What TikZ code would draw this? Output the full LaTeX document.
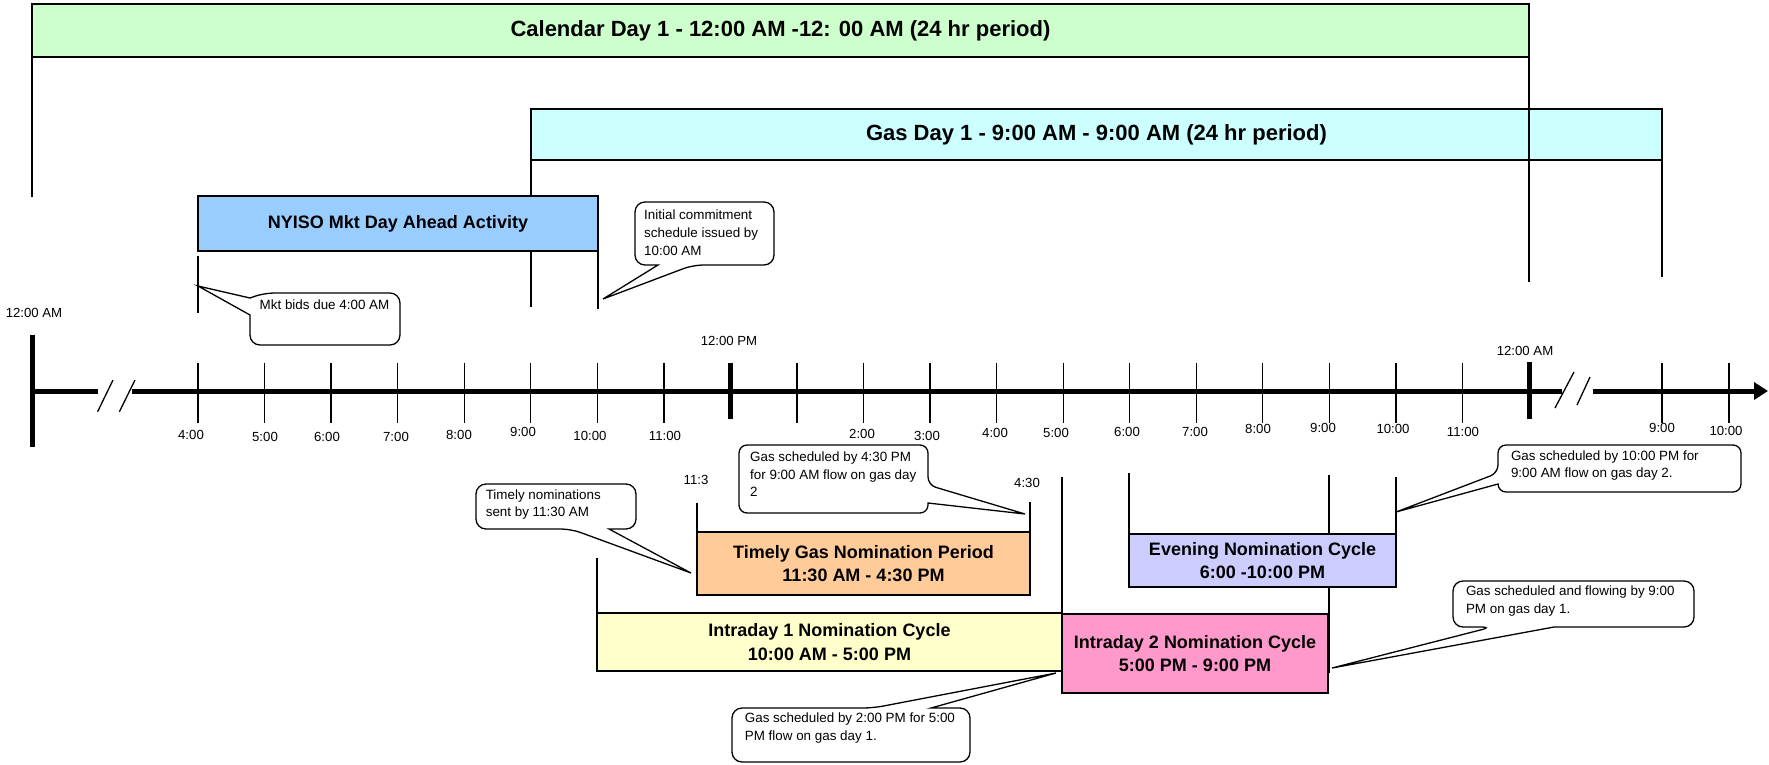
\documentclass[tikz,border=0pt]{standalone}
\usepackage{fontspec}
\setmainfont{Liberation Sans}
\usetikzlibrary{arrows.meta}
\definecolor{calg}{HTML}{CCFFCC}
\definecolor{gasc}{HTML}{CCFFFF}
\definecolor{nyb}{HTML}{99CCFF}
\definecolor{timo}{HTML}{FFCC99}
\definecolor{inty}{HTML}{FFFFCC}
\definecolor{intp}{HTML}{FF99CC}
\definecolor{evep}{HTML}{CCCCFF}
\tikzset{
  box/.style={draw=black, line width=1.3pt, inner sep=0pt, outer sep=0pt, align=center,
    font=\bfseries\fontsize{18}{23.5}\selectfont},
  bigbox/.style={box, font=\bfseries\fontsize{22}{26}\selectfont},
  vline/.style={line width=1.3pt},
  axisline/.style={line width=5pt},
  bigtick/.style={line width=5pt},
  hourtick/.style={line width=1.3pt},
  slash/.style={line width=1.3pt},
  bubble/.style={draw=black, fill=white, line width=1.3pt},
  bubtext/.style={anchor=west, inner sep=0pt, align=left, font=\fontsize{13.4}{17.8}\selectfont},
  lbl/.style={inner sep=0pt, font=\fontsize{13.2}{15}\selectfont}
}
\begin{document}
\begin{tikzpicture}[x=1pt,y=-1pt]
\useasboundingbox (0,0) rectangle (1769,764);

% --- top period boxes ---
\node[bigbox, fill=calg, minimum width=1497pt, minimum height=53pt] (cal) at (780.5,30.5)
  {Calendar Day 1 - 12:00 AM -12: 00 AM (24 hr period)};
\node[bigbox, fill=gasc, minimum width=1131pt, minimum height=51pt] (gas) at (1096.5,134.5)
  {Gas Day 1 - 9:00 AM - 9:00 AM (24 hr period)};
\draw[vline] (cal.south west) -- ++(0,140);
\draw[vline] (cal.south east) -- ++(0,225);
\draw[vline] (gas.south west) -- ++(0,147);
\draw[vline] (gas.south east) -- ++(0,117);

\node[box, fill=nyb, minimum width=400pt, minimum height=55pt] (nyiso) at (398,223.5)
  {NYISO Mkt Day Ahead Activity};
\draw[vline] (nyiso.south west) ++(0,5) -- ++(0,57);
\draw[vline] (nyiso.south east) -- ++(0,58);

% --- axis ---
\coordinate (a0) at (32,391);
\coordinate (a1) at (98,391);
\coordinate (a2) at (132,391);
\coordinate (a3) at (1562,391);
\coordinate (a4) at (1593,391);
\coordinate (a5) at (1768,391);
\draw[axisline] (a0) -- (a1);
\draw[axisline] (a2) -- (a3);
\draw[axisline, -{Triangle[length=14pt,width=17pt]}] (a4) -- (a5);
\draw[slash] (97.6,411.7) -- (113,380);
\draw[slash] (119.4,411.7) -- (135,380);
\draw[slash] (1555,408) -- (1574,372);
\draw[slash] (1577,405) -- (1590,377);

\draw[bigtick] (32,335) -- (32,447);
\draw[bigtick] (730.4,363) -- (730.4,419);
\draw[bigtick] (1529,362) -- (1529,419);
\foreach \h in {4,...,11,13,14,...,23} {
  \draw[hourtick] ({198+66.55*(\h-4)},363) -- ({198+66.55*(\h-4)},423);
}
\draw[hourtick] (1662,363) -- (1662,423);
\draw[hourtick] (1729,363) -- (1729,423);

% tick labels
\foreach \t/\x/\y [count=\i] in {4:00/191/435, 5:00/265/437, 6:00/327/437, 7:00/396/437,
  8:00/459/435, 9:00/523/432, 10:00/590/436, 11:00/665/436, 2:00/862/434, 3:00/927/436,
  4:00/995/433, 5:00/1056/433, 6:00/1127/432, 7:00/1195/432, 8:00/1258/429, 9:00/1323/428,
  10:00/1393/429, 11:00/1463/432, 9:00/1662/428, 10:00/1726/431} {
  \node[lbl] (t\i) at (\x,\y) {\t};
}
\node[lbl] (l12a) at (34,312.5) {12:00 AM};
\node[lbl] (l12p) at (729,341) {12:00 PM};
\node[lbl] (l12b) at (1525,351) {12:00 AM};
\node[lbl] (l113) at (696,479.5) {11:3};
\node[lbl] (l430) at (1027,483) {4:30};

% --- lower nomination boxes ---
\coordinate (h21top) at (1329,475);
\coordinate (h21bot) at (1329,673);
\draw[vline] (h21top) -- (h21bot);

\node[box, fill=timo, minimum width=333pt, minimum height=63pt] (timely) at (863.5,563.5)
  {Timely Gas Nomination Period\\11:30 AM - 4:30 PM};
\draw[vline] (timely.north west) -- ++(0,-29);
\draw[vline] (timely.north east) -- ++(0,-30);

\node[box, fill=inty, minimum width=465pt, minimum height=58pt] (intra1) at (829.5,642)
  {Intraday 1 Nomination Cycle\\10:00 AM - 5:00 PM};
\draw[vline] (intra1.north west) -- ++(0,-55);

\node[box, fill=evep, minimum width=267pt, minimum height=53pt] (even) at (1262.5,560.5)
  {Evening Nomination Cycle\\6:00 -10:00 PM};
\draw[vline] (even.north west) -- ++(0,-61);
\draw[vline] (even.north east) -- ++(0,-57);

\node[box, fill=intp, minimum width=266pt, minimum height=79pt] (intra2) at (1195,653.5)
  {Intraday 2 Nomination Cycle\\5:00 PM - 9:00 PM};
\draw[vline] (intra2.north west) -- ++(0,-137);

% --- callouts ---
\coordinate (tip1) at (198,286);
\draw[bubble] (tip1) -- (250,315) [rounded corners=10pt] -- (250,345) -- (400,345) -- (400,293) -- (264,293) [sharp corners] -- (250,298) -- cycle;
\node[bubtext] (c1) at (259.5,305) {Mkt bids due 4:00 AM};

\coordinate (tip2) at (603,299);
\draw[bubble] (tip2) -- (658,265) [rounded corners=10pt] -- (635,265) -- (635,202) -- (774,202) -- (774,265) -- (693,265) [sharp corners] -- cycle;
\node[bubtext] (c2) at (644,233) {Initial commitment\\schedule issued by\\10:00 AM};

\coordinate (tip3) at (691,573);
\draw[bubble] (tip3) -- (609,529) [rounded corners=10pt] -- (636,529) -- (636,484) -- (476,484) -- (476,529) -- (571,529) [sharp corners] -- cycle;
\node[bubtext] (c3) at (485.6,504.5) {Timely nominations\\sent by 11:30 AM};

\coordinate (tip4) at (1025,514);
\draw[bubble] (tip4) -- (928,503) [rounded corners=8pt] -- (928,513) -- (739,513) -- (739,445) -- (928,445) -- (928,485) [sharp corners] -- cycle;
\node[bubtext] (c4) at (750,474.3) {Gas scheduled by 4:30 PM\\for 9:00 AM flow on gas day\\2};

\coordinate (tip5) at (1056,673);
\draw[bubble] (tip5) -- (931,708) [rounded corners=10pt] -- (970,708) -- (970,762) -- (732,762) -- (732,708) -- (873,708) [sharp corners] -- cycle;
\node[bubtext] (c5) at (744.7,728) {Gas scheduled by 2:00 PM for 5:00\\PM flow on gas day 1.};

\coordinate (tip6) at (1396,512);
\draw[bubble] (tip6) -- (1498,484) [rounded corners=8pt] -- (1498,492) -- (1741,492) -- (1741,445) -- (1498,445) -- (1498,473) [sharp corners] -- cycle;
\node[bubtext] (c6) at (1510.8,465.5) {Gas scheduled by 10:00 PM for\\9:00 AM flow on gas day 2.};

\coordinate (tip7) at (1332,668);
\draw[bubble] (tip7) -- (1554,627) [rounded corners=10pt] -- (1694,627) -- (1694,581) -- (1453,581) -- (1453,627) -- (1492,627) [sharp corners] -- cycle;
\node[bubtext] (c7) at (1465.8,600.8) {Gas scheduled and flowing by 9:00\\PM on gas day 1.};
\end{tikzpicture}
\end{document}
